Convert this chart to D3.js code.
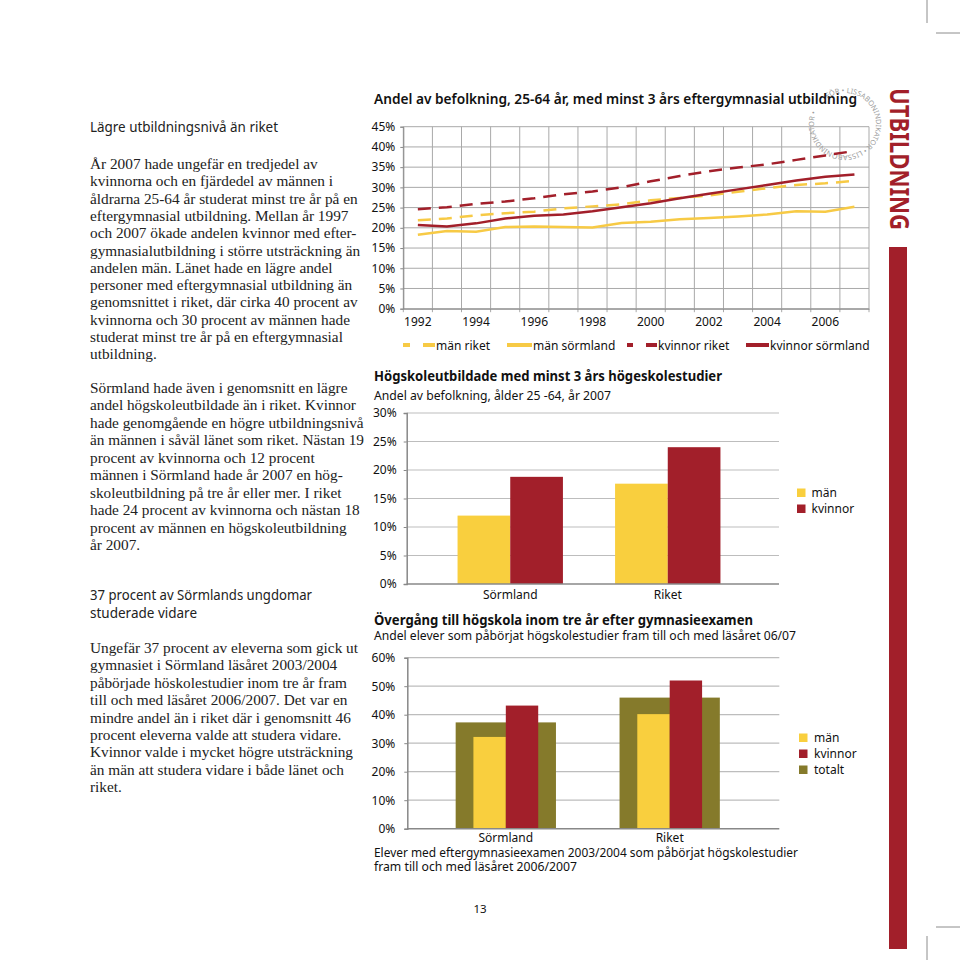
<!DOCTYPE html>
<html><head><meta charset="utf-8">
<script src="https://cdn.jsdelivr.net/npm/d3@7"></script>
<style>
html,body{margin:0;padding:0;background:#fff;}
svg{display:block;}
</style></head><body>
<svg id="page" width="960" height="960"></svg>
<script>
// ---------- DATA ----------
const years = [1992,1993,1994,1995,1996,1997,1998,1999,2000,2001,2002,2003,2004,2005,2006,2007];
const manRiket        = [21.9,22.3,23.1,23.6,24.0,24.8,25.3,25.8,26.8,27.4,28.0,28.9,29.8,30.6,31.0,31.6];
const manSormland     = [18.3,19.2,19.0,20.2,20.3,20.2,20.1,21.2,21.5,22.1,22.4,22.8,23.3,24.1,24.0,25.2];
const kvinnorRiket    = [24.6,25.1,25.9,26.5,27.3,28.3,29.0,30.0,31.5,32.8,34.0,34.9,35.7,36.8,37.9,39.0];
const kvinnorSormland = [20.7,20.3,21.1,22.3,23.0,23.3,24.1,25.1,26.1,27.3,28.4,29.5,30.6,31.7,32.6,33.2];
const lineTicks = [0,5,10,15,20,25,30,35,40,45];
const yearLabels = [1992,1994,1996,1998,2000,2002,2004,2006];

const regions = ["Sörmland","Riket"];
const hogskolaMan = [12.0,17.6];
const hogskolaKvinnor = [18.8,24.0];
const hogskolaTicks = [0,5,10,15,20,25,30];

const overgangMan = [32.2,40.2];
const overgangKvinnor = [43.2,52.0];
const overgangTotalt = [37.3,46.0];
const overgangTicks = [0,10,20,30,40,50,60];

// ---------- TEXTS ----------
const para1 = ["År 2007 hade ungefär en tredjedel av","kvinnorna och en fjärdedel av männen i","åldrarna 25-64 år studerat minst tre år på en","eftergymnasial utbildning. Mellan år 1997","och 2007 ökade andelen kvinnor med efter-","gymnasialutbildning i större utsträckning än","andelen män. Länet hade en lägre andel","personer med eftergymnasial utbildning än","genomsnittet i riket, där cirka 40 procent av","kvinnorna och 30 procent av männen hade","studerat minst tre år på en eftergymnasial","utbildning."];
const para2 = ["Sörmland hade även i genomsnitt en lägre","andel högskoleutbildade än i riket. Kvinnor","hade genomgående en högre utbildningsnivå","än männen i såväl länet som riket. Nästan 19","procent av kvinnorna och 12 procent","männen i Sörmland hade år 2007 en hög-","skoleutbildning på tre år eller mer. I riket","hade 24 procent av kvinnorna och nästan 18","procent av männen en högskoleutbildning","år 2007."];
const para3 = ["Ungefär 37 procent av eleverna som gick ut","gymnasiet i Sörmland läsåret 2003/2004","påbörjade höskolestudier inom tre år fram","till och med läsåret 2006/2007. Det var en","mindre andel än i riket där i genomsnitt 46","procent eleverna valde att studera vidare.","Kvinnor valde i mycket högre utsträckning","än män att studera vidare i både länet och","riket."];

// ---------- STYLE ----------
const SANS = "'Noto Sans','DejaVu Sans',sans-serif";
const SERIF = "'Liberation Serif','Times New Roman',serif";
const RED = "#a21f2a", YEL = "#f9cf3e", LYEL = "#f7ca45", OLIVE = "#857a2b";
const svg = d3.select("#page");

// crop marks
const crop = svg.append("g").attr("stroke","#8c8c8c").attr("stroke-width",1);
crop.append("line").attr("x1",927).attr("x2",927).attr("y1",0).attr("y2",23);
crop.append("line").attr("x1",936).attr("x2",960).attr("y1",33).attr("y2",33);
crop.append("line").attr("x1",927).attr("x2",927).attr("y1",936).attr("y2",960);
crop.append("line").attr("x1",936).attr("x2",960).attr("y1",927).attr("y2",927);

// right side banner
svg.append("text").attr("transform","translate(899,159) rotate(90)")
  .attr("text-anchor","middle").attr("dy","0.36em")
  .attr("font-family",SANS).attr("font-weight","bold").attr("font-size",26)
  .attr("fill",RED).attr("textLength",142).attr("lengthAdjust","spacingAndGlyphs")
  .text("UTBILDNING");
svg.append("rect").attr("x",889).attr("y",247).attr("width",18).attr("height",702).attr("fill",RED);

// ---------- LEFT COLUMN ----------
function heading(txt, x, y, w){
  svg.append("text").attr("x",x).attr("y",y).attr("font-family",SANS).attr("font-size",13.5)
    .attr("fill","#222").attr("textLength",w).attr("lengthAdjust","spacingAndGlyphs").text(txt);
}
function paragraph(lines, x, y0, step){
  const g = svg.append("g").attr("font-family",SERIF).attr("font-size",15.3).attr("fill","#222");
  g.selectAll("text").data(lines).join("text")
    .attr("x",x).attr("y",(d,i)=>y0+i*step).text(d=>d);
}
heading("Lägre utbildningsnivå än riket",90,131.5,188);
paragraph(para1,90,169,17.3);
paragraph(para2,90,393,17.45);
heading("37 procent av Sörmlands ungdomar",90,600,222);
heading("studerade vidare",90,618,107);
paragraph(para3,90,653,17.4);

// stamp ring (behind chart title)
(function(){
  const cx=845, cy=124, r=31;
  const a0 = -125*Math.PI/180;
  const sx=cx+r*Math.cos(a0), sy=cy+r*Math.sin(a0);
  const ox=cx-r*Math.cos(a0), oy=cy-r*Math.sin(a0);
  svg.append("defs").append("path").attr("id","ring")
    .attr("d",`M${sx},${sy} A${r},${r} 0 1 1 ${ox},${oy} A${r},${r} 0 1 1 ${sx},${sy}`);
  svg.append("text").attr("font-family",SANS).attr("font-size",7.2).attr("fill","#9c9c9c")
    .append("textPath").attr("href","#ring")
    .text("FÖR • LISSABONINDIKATOR • LISSABONINDIKATOR •");
})();

// ---------- LINE CHART ----------
(function(){
  const L=403.3, R=869, T=126.7, B=308.7;
  const x = d3.scaleBand().domain(years).range([L,R]);
  const bw = x.bandwidth();
  const y = d3.scaleLinear().domain([0,45]).range([B,T]);
  const g = svg.append("g");

  g.append("text").attr("x",374).attr("y",104).attr("font-family",SANS).attr("font-weight",600)
    .attr("font-size",14).attr("fill","#111").attr("textLength",483).attr("lengthAdjust","spacingAndGlyphs")
    .text("Andel av befolkning, 25-64 år, med minst 3 års eftergymnasial utbildning");

  g.append("g").selectAll("line").data(lineTicks).join("line")
    .attr("x1",L).attr("x2",R).attr("y1",d=>y(d)).attr("y2",d=>y(d))
    .attr("stroke","#a9a9a9").attr("stroke-width",1);
  const bounds = years.map(d=>x(d)).concat([x(years[years.length-1])+bw]);
  g.append("g").selectAll("line").data(bounds).join("line")
    .attr("x1",d=>d).attr("x2",d=>d).attr("y1",T).attr("y2",B+3.5)
    .attr("stroke","#a9a9a9").attr("stroke-width",1);

  const ay = g.append("g").attr("transform",`translate(${L},0)`)
    .call(d3.axisLeft(y).tickValues(lineTicks).tickSize(3).tickPadding(5).tickFormat(d=>d+"%"));
  ay.select(".domain").attr("stroke","#888");
  ay.selectAll(".tick line").attr("stroke","#888");
  ay.selectAll("text").attr("font-family",SANS).attr("font-size",12).attr("fill","#111");
  const ax = g.append("g").attr("transform",`translate(0,${B})`)
    .call(d3.axisBottom(x).tickValues(yearLabels).tickSize(0).tickPadding(9));
  ax.select(".domain").attr("stroke","#888");
  ax.selectAll("text").attr("font-family",SANS).attr("font-size",12).attr("fill","#111");

  const series = [
    {name:"män sörmland", vals:manSormland, color:LYEL, dash:null},
    {name:"män riket", vals:manRiket, color:LYEL, dash:"13,8"},
    {name:"kvinnor sörmland", vals:kvinnorSormland, color:RED, dash:null},
    {name:"kvinnor riket", vals:kvinnorRiket, color:RED, dash:"13,8"}
  ];
  const line = d3.line().x((d,i)=>x(years[i])+bw/2).y(d=>y(d));
  g.append("g").selectAll("path").data(series).join("path")
    .attr("d",d=>line(d.vals)).attr("fill","none").attr("stroke",d=>d.color)
    .attr("stroke-width",2.5).attr("stroke-dasharray",d=>d.dash);

  const legendItems = [
    {label:"män riket", color:LYEL, dash:"7,13,12", x0:403, x1:435, tx:436},
    {label:"män sörmland", color:LYEL, dash:null, x0:507, x1:532, tx:533},
    {label:"kvinnor riket", color:RED, dash:"6,13,11", x0:627, x1:657, tx:658},
    {label:"kvinnor sörmland", color:RED, dash:null, x0:746, x1:769, tx:770}
  ];
  const lg = g.append("g");
  lg.selectAll("line").data(legendItems).join("line")
    .attr("x1",d=>d.x0).attr("x2",d=>d.x1).attr("y1",345).attr("y2",345)
    .attr("stroke",d=>d.color).attr("stroke-width",4).attr("stroke-dasharray",d=>d.dash);
  lg.selectAll("text").data(legendItems).join("text")
    .attr("x",d=>d.tx).attr("y",349.5).attr("font-family",SANS).attr("font-size",12).attr("fill","#111")
    .text(d=>d.label);
})();

// ---------- BAR CHART 1 ----------
(function(){
  const L=406.7, R=779, T=413, B=584;
  const y = d3.scaleLinear().domain([0,30]).range([B,T]);
  const x0 = d3.scaleBand().domain(regions).range([404,774]).paddingInner(0.331).paddingOuter(0.34);
  const x1 = d3.scaleBand().domain(["män","kvinnor"]).range([0,x0.bandwidth()]);
  const g = svg.append("g");
  g.append("text").attr("x",374).attr("y",381).attr("font-family",SANS).attr("font-weight","bold")
    .attr("font-size",13.5).attr("fill","#111").attr("textLength",348).attr("lengthAdjust","spacingAndGlyphs")
    .text("Högskoleutbildade med minst 3 års högeskolestudier");
  g.append("text").attr("x",374).attr("y",399.5).attr("font-family",SANS)
    .attr("font-size",12.5).attr("fill","#111").attr("textLength",237).attr("lengthAdjust","spacingAndGlyphs")
    .text("Andel av befolkning, ålder 25 -64, år 2007");

  g.append("g").selectAll("line").data(hogskolaTicks.slice(1)).join("line")
    .attr("x1",L).attr("x2",R).attr("y1",d=>y(d)).attr("y2",d=>y(d))
    .attr("stroke","#bdbdbd").attr("stroke-width",1.2);

  const rows = regions.map((r,i)=>({region:r, vals:[{k:"män",v:hogskolaMan[i],c:YEL},{k:"kvinnor",v:hogskolaKvinnor[i],c:RED}]}));
  g.append("g").selectAll("g").data(rows).join("g")
    .attr("transform",d=>`translate(${x0(d.region)},0)`)
    .selectAll("rect").data(d=>d.vals).join("rect")
    .attr("x",d=>x1(d.k)).attr("width",x1.bandwidth())
    .attr("y",d=>y(d.v)).attr("height",d=>B-y(d.v)).attr("fill",d=>d.c);

  const ay = g.append("g").attr("transform",`translate(${L},0)`)
    .call(d3.axisLeft(y).tickValues(hogskolaTicks).tickSize(3).tickPadding(7).tickFormat(d=>d+"%"));
  ay.select(".domain").attr("stroke","#888").attr("stroke-width",1.5);
  ay.selectAll(".tick line").attr("stroke","#888");
  ay.selectAll("text").attr("font-family",SANS).attr("font-size",12).attr("fill","#111");
  g.append("line").attr("x1",L).attr("x2",R).attr("y1",B).attr("y2",B).attr("stroke","#888").attr("stroke-width",1.5);

  g.append("g").selectAll("text").data(regions).join("text")
    .attr("x",d=>x0(d)+x0.bandwidth()/2).attr("y",599).attr("text-anchor","middle")
    .attr("font-family",SANS).attr("font-size",12).attr("fill","#111").text(d=>d);

  const leg = [{k:"män",c:YEL},{k:"kvinnor",c:RED}];
  const lg = g.append("g");
  lg.selectAll("rect").data(leg).join("rect").attr("x",797).attr("y",(d,i)=>488.5+i*16)
    .attr("width",8.5).attr("height",8.5).attr("fill",d=>d.c);
  lg.selectAll("text").data(leg).join("text").attr("x",811.5).attr("y",(d,i)=>497+i*16)
    .attr("font-family",SANS).attr("font-size",12).attr("fill","#111").text(d=>d.k);
})();

// ---------- BAR CHART 2 ----------
(function(){
  const L=407.3, R=779.3, T=657.7, B=828.7;
  const y = d3.scaleLinear().domain([0,60]).range([B,T]);
  const x0 = d3.scaleBand().domain(regions).range([406.5,769]).paddingInner(0.388).paddingOuter(0.3);
  const bw = x0.bandwidth();
  const x1 = d3.scaleBand().domain(["män","kvinnor"]).range([bw/2-32.4,bw/2+32.4]);
  const g = svg.append("g");
  g.append("text").attr("x",374).attr("y",625).attr("font-family",SANS).attr("font-weight","bold")
    .attr("font-size",13.5).attr("fill","#111").attr("textLength",379).attr("lengthAdjust","spacingAndGlyphs")
    .text("Övergång till högskola inom tre år efter gymnasieexamen");
  g.append("text").attr("x",374).attr("y",639.5).attr("font-family",SANS)
    .attr("font-size",12.5).attr("fill","#111").attr("textLength",422).attr("lengthAdjust","spacingAndGlyphs")
    .text("Andel elever som påbörjat högskolestudier fram till och med läsåret 06/07");

  g.append("g").selectAll("line").data(overgangTicks.slice(1)).join("line")
    .attr("x1",L).attr("x2",R).attr("y1",d=>y(d)).attr("y2",d=>y(d))
    .attr("stroke","#bdbdbd").attr("stroke-width",1.2);

  g.append("g").selectAll("rect").data(regions).join("rect")
    .attr("x",d=>x0(d)).attr("width",bw)
    .attr("y",(d,i)=>y(overgangTotalt[i])).attr("height",(d,i)=>B-y(overgangTotalt[i])).attr("fill",OLIVE);
  const rows = regions.map((r,i)=>({region:r, vals:[{k:"män",v:overgangMan[i],c:YEL},{k:"kvinnor",v:overgangKvinnor[i],c:RED}]}));
  g.append("g").selectAll("g").data(rows).join("g")
    .attr("transform",d=>`translate(${x0(d.region)},0)`)
    .selectAll("rect").data(d=>d.vals).join("rect")
    .attr("x",d=>x1(d.k)).attr("width",x1.bandwidth())
    .attr("y",d=>y(d.v)).attr("height",d=>B-y(d.v)).attr("fill",d=>d.c);

  const ay = g.append("g").attr("transform",`translate(${L},0)`)
    .call(d3.axisLeft(y).tickValues(overgangTicks).tickSize(3).tickPadding(9).tickFormat(d=>d+"%"));
  ay.select(".domain").attr("stroke","#888").attr("stroke-width",1.5);
  ay.selectAll(".tick line").attr("stroke","#888");
  ay.selectAll("text").attr("font-family",SANS).attr("font-size",12).attr("fill","#111");
  g.append("line").attr("x1",L).attr("x2",R).attr("y1",B).attr("y2",B).attr("stroke","#888").attr("stroke-width",1.5);

  g.append("g").selectAll("text").data(regions).join("text")
    .attr("x",d=>x0(d)+bw/2).attr("y",841.5).attr("text-anchor","middle")
    .attr("font-family",SANS).attr("font-size",12).attr("fill","#111").text(d=>d);

  const leg = [{k:"män",c:YEL},{k:"kvinnor",c:RED},{k:"totalt",c:OLIVE}];
  const lg = g.append("g");
  lg.selectAll("rect").data(leg).join("rect").attr("x",799).attr("y",(d,i)=>733.5+i*16)
    .attr("width",8.5).attr("height",8.5).attr("fill",d=>d.c);
  lg.selectAll("text").data(leg).join("text").attr("x",814).attr("y",(d,i)=>742+i*16)
    .attr("font-family",SANS).attr("font-size",12).attr("fill","#111").text(d=>d.k);

  g.append("text").attr("x",374).attr("y",856.5).attr("font-family",SANS).attr("font-size",12).attr("fill","#111")
    .attr("textLength",424).attr("lengthAdjust","spacingAndGlyphs")
    .text("Elever med eftergymnasieexamen 2003/2004 som påbörjat högskolestudier");
  g.append("text").attr("x",374).attr("y",871).attr("font-family",SANS).attr("font-size",12).attr("fill","#111")
    .attr("textLength",203).attr("lengthAdjust","spacingAndGlyphs")
    .text("fram till och med läsåret 2006/2007");
})();

svg.append("text").attr("x",480).attr("y",912.5).attr("text-anchor","middle")
  .attr("font-family",SANS).attr("font-size",11.5).attr("fill","#111").text("13");
</script>
</body></html>
